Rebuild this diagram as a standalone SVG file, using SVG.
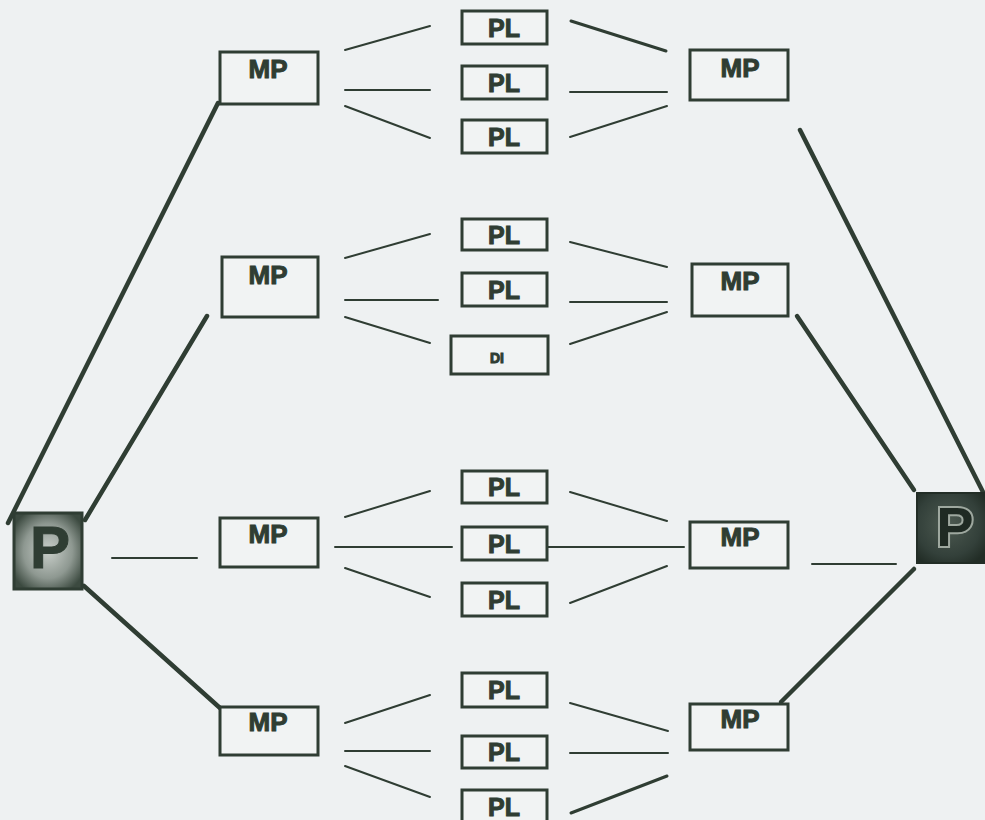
<svg xmlns="http://www.w3.org/2000/svg" width="985" height="820" viewBox="0 0 985 820">
<style>
.bg{fill:#eef1f2}
.box{fill:#f1f3f3;stroke:#2f3d33;stroke-width:3}
.lbl{font-family:"Liberation Sans",Arial,sans-serif;font-weight:bold;fill:#2f3d33;stroke:#2f3d33;stroke-width:1;text-anchor:middle}
.mp{font-size:26px}
.pl{font-size:25px}
.c{stroke:#2f3d33;stroke-linecap:round;fill:none}
.t{stroke-width:2}
.m{stroke-width:3}
.k{stroke-width:4.5}
</style>
<defs>
<radialGradient id="gl" cx="50%" cy="50%" r="60%">
<stop offset="0" stop-color="#c9cfca"/>
<stop offset="0.6" stop-color="#8e9891"/>
<stop offset="1" stop-color="#3c4a40"/>
</radialGradient>
<radialGradient id="gr" cx="45%" cy="45%" r="65%">
<stop offset="0" stop-color="#4d5a51"/>
<stop offset="0.7" stop-color="#33403a"/>
<stop offset="1" stop-color="#222d26"/>
</radialGradient>
</defs>
<rect class="bg" x="0" y="0" width="985" height="820"/>

<g id="connectors">
<line class="c k" x1="8" y1="523" x2="218" y2="103"/>
<line class="c k" x1="85" y1="520" x2="207" y2="316"/>
<line class="c t" x1="112" y1="558" x2="197" y2="558"/>
<line class="c k" x1="84" y1="586" x2="220" y2="708"/>
<line class="c k" x1="800" y1="130" x2="983" y2="492"/>
<line class="c k" x1="797" y1="316" x2="914" y2="490"/>
<line class="c t" x1="812" y1="564" x2="896" y2="564"/>
<line class="c k" x1="914" y1="569" x2="781" y2="702"/>
<line class="c t" x1="345" y1="50" x2="430" y2="26"/>
<line class="c t" x1="345" y1="90" x2="430" y2="90"/>
<line class="c t" x1="345" y1="106" x2="430" y2="138"/>
<line class="c m" x1="571" y1="21" x2="666" y2="51"/>
<line class="c t" x1="570" y1="92" x2="667" y2="92"/>
<line class="c t" x1="570" y1="137" x2="667" y2="106"/>
<line class="c t" x1="345" y1="258" x2="430" y2="234"/>
<line class="c t" x1="345" y1="300" x2="438" y2="300"/>
<line class="c t" x1="345" y1="317" x2="430" y2="343"/>
<line class="c t" x1="570" y1="242" x2="667" y2="267"/>
<line class="c t" x1="570" y1="302" x2="667" y2="302"/>
<line class="c t" x1="570" y1="344" x2="667" y2="312"/>
<line class="c t" x1="345" y1="517" x2="430" y2="491"/>
<line class="c t" x1="335" y1="547" x2="452" y2="547"/>
<line class="c t" x1="345" y1="568" x2="430" y2="597"/>
<line class="c t" x1="570" y1="492" x2="667" y2="521"/>
<line class="c t" x1="547" y1="547" x2="684" y2="547"/>
<line class="c t" x1="570" y1="603" x2="667" y2="566"/>
<line class="c t" x1="345" y1="723" x2="430" y2="695"/>
<line class="c t" x1="345" y1="751" x2="430" y2="751"/>
<line class="c t" x1="345" y1="766" x2="430" y2="797"/>
<line class="c t" x1="570" y1="703" x2="668" y2="731"/>
<line class="c t" x1="570" y1="753" x2="668" y2="753"/>
<line class="c m" x1="571" y1="813" x2="667" y2="776"/>
</g>

<g id="P_left">
<rect x="14" y="513" width="68" height="76" fill="url(#gl)" stroke="#2f3d33" stroke-width="3"/>
<text class="lbl" x="50" y="568" font-size="60" fill="#26322a" stroke="#26322a">P</text>
</g>
<g id="P_right">
<rect x="917" y="493" width="70" height="70" fill="url(#gr)" stroke="#222d26" stroke-width="2"/>
<text x="955" y="546" font-family="Liberation Sans, Arial, sans-serif" font-weight="bold" font-size="56" text-anchor="middle" fill="#1f2a23" stroke="#9ea89f" stroke-width="4" paint-order="stroke">P</text>
</g>

<g id="MP_L1"><rect class="box" x="220" y="52" width="98" height="52"/><text class="lbl mp" x="268" y="78">MP</text></g>
<g id="MP_L2"><rect class="box" x="222" y="257" width="96" height="60"/><text class="lbl mp" x="268" y="284">MP</text></g>
<g id="MP_L3"><rect class="box" x="220" y="518" width="98" height="49"/><text class="lbl mp" x="268" y="543">MP</text></g>
<g id="MP_L4"><rect class="box" x="220" y="707" width="98" height="48"/><text class="lbl mp" x="268" y="731">MP</text></g>

<g id="MP_R1"><rect class="box" x="690" y="50" width="98" height="50"/><text class="lbl mp" x="740" y="77">MP</text></g>
<g id="MP_R2"><rect class="box" x="692" y="264" width="96" height="52"/><text class="lbl mp" x="740" y="290">MP</text></g>
<g id="MP_R3"><rect class="box" x="690" y="522" width="98" height="46"/><text class="lbl mp" x="740" y="546">MP</text></g>
<g id="MP_R4"><rect class="box" x="690" y="704" width="98" height="46"/><text class="lbl mp" x="740" y="728">MP</text></g>

<g id="PL_1a"><rect class="box" x="462" y="11" width="85" height="33"/><text class="lbl pl" x="504" y="37">PL</text></g>
<g id="PL_1b"><rect class="box" x="462" y="66" width="85" height="33"/><text class="lbl pl" x="504" y="92">PL</text></g>
<g id="PL_1c"><rect class="box" x="462" y="120" width="85" height="33"/><text class="lbl pl" x="504" y="146">PL</text></g>

<g id="PL_2a"><rect class="box" x="462" y="219" width="85" height="31"/><text class="lbl pl" x="504" y="244">PL</text></g>
<g id="PL_2b"><rect class="box" x="462" y="273" width="85" height="33"/><text class="lbl pl" x="504" y="299">PL</text></g>
<g id="DI_2c"><rect class="box" x="451" y="336" width="97" height="38"/><text class="lbl" x="497" y="363" font-size="14">DI</text></g>

<g id="PL_3a"><rect class="box" x="462" y="471" width="85" height="32"/><text class="lbl pl" x="504" y="496">PL</text></g>
<g id="PL_3b"><rect class="box" x="462" y="527" width="85" height="33"/><text class="lbl pl" x="504" y="553">PL</text></g>
<g id="PL_3c"><rect class="box" x="462" y="583" width="85" height="33"/><text class="lbl pl" x="504" y="609">PL</text></g>

<g id="PL_4a"><rect class="box" x="462" y="673" width="85" height="34"/><text class="lbl pl" x="504" y="699">PL</text></g>
<g id="PL_4b"><rect class="box" x="462" y="736" width="85" height="32"/><text class="lbl pl" x="504" y="761">PL</text></g>
<g id="PL_4c"><rect class="box" x="462" y="790" width="85" height="34"/><text class="lbl pl" x="504" y="816">PL</text></g>
</svg>
